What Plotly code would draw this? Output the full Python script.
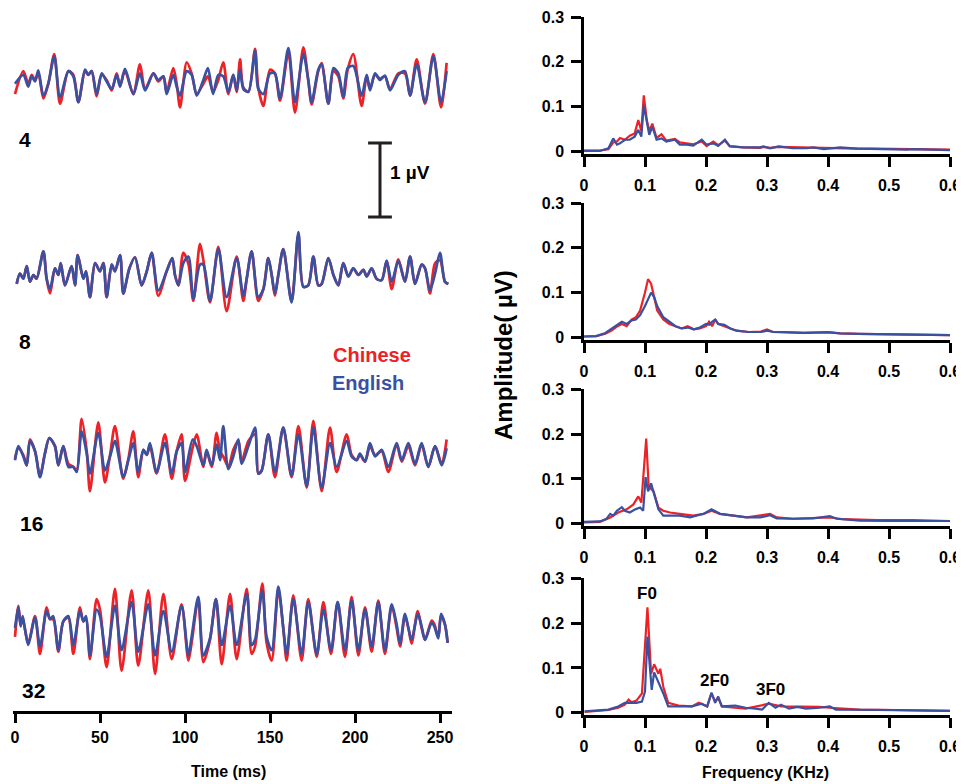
import plotly.graph_objects as go

# the page places the figure 8 px from the top-left corner of a 964x784 window
OFF = 8
W, H = 964 - OFF, 784 - OFF
RED = '#EC2227'
BLUE = '#3A50A1'
FONT = 'Arial, Liberation Sans, sans-serif'

# ---------------- time-domain waveforms (ms, µV) ----------------
t4 = [0, 4.9, 7.8, 9.8, 11.8, 13.7, 16.7, 19.6, 23.1, 26.5, 31.4, 34.3, 37.3, 41.2, 43.1, 45.1, 48.0, 51.0, 53.9, 56.9,
      59.8, 61.8, 64.7, 69.6, 73.5, 76.5, 81.4, 84.3, 87.3, 89.2, 93.1, 95.1, 97.1, 101.0, 103.9, 106.9, 110.8, 113.5,
      116.5, 119.6, 122.5, 125.5, 128.4, 130.4, 132.4, 134.3, 137.3, 141.2, 143.1, 146.1, 150.0, 152.9, 155.9, 160.8,
      164.7, 169.6, 172.5, 174.5, 178.4, 180.4, 184.3, 187.3, 190.2, 193.1, 195.7, 199.0, 203.9, 206.9, 208.8, 211.8,
      214.7, 217.6, 220.6, 225.5, 229.4, 232.4, 236.3, 241.2, 246.1, 250.6, 253.9]
blue4 = [-0.05, 0.07, -0.09, 0.05, -0.02, 0.13, -0.21, -0.05, 0.32, -0.23, 0.12, 0.05, -0.30, 0.14, 0.07, 0.12, -0.19, 0.09,
         -0.02, -0.12, 0.07, -0.09, 0.15, -0.19, 0.09, -0.14, 0.09, 0.0, 0.05, -0.19, 0.07, -0.09, -0.21, 0.12, 0.07, -0.21,
         0.0, 0.16, -0.19, 0.07, 0.05, -0.16, 0.07, -0.14, 0.14, -0.12, -0.16, 0.39, -0.12, -0.19, 0.09, 0.09, -0.25, 0.43,
         -0.30, 0.35, 0.0, -0.30, 0.14, 0.21, -0.32, 0.16, 0.09, -0.23, 0.16, 0.19, -0.21, 0.07, -0.14, 0.09, 0.0, 0.06,
         -0.14, 0.07, 0.12, -0.21, 0.21, -0.30, 0.32, -0.30, 0.12]
red4 = [-0.19, 0.12, -0.05, 0.07, 0.0, 0.10, -0.25, -0.05, 0.35, -0.32, 0.12, 0.07, -0.30, 0.12, 0.07, 0.12, -0.22, 0.07,
        0.0, -0.14, 0.09, -0.07, 0.12, -0.19, 0.21, -0.12, 0.09, -0.02, 0.05, -0.16, 0.16, -0.05, -0.37, 0.24, 0.09, -0.19,
        -0.05, 0.05, -0.16, 0.0, 0.24, -0.19, 0.07, -0.16, 0.28, -0.10, -0.16, 0.42, -0.10, -0.35, 0.14, 0.09, -0.28, 0.37,
        -0.44, 0.44, 0.0, -0.33, 0.12, 0.23, -0.32, 0.12, 0.05, -0.25, 0.14, 0.35, -0.35, 0.05, -0.12, 0.07, 0.02, 0.05,
        -0.12, 0.09, 0.09, -0.21, 0.28, -0.32, 0.35, -0.37, 0.23]

t8 = [1.0, 2.9, 4.9, 6.9, 8.8, 10.8, 12.7, 16.7, 18.6, 20.6, 23.5, 25.5, 26.9, 29.4, 33.3, 35.3, 36.9, 40.2, 41.8, 44.1,
      47.1, 50.0, 52.0, 53.9, 56.9, 58.8, 61.8, 63.7, 67.3, 70.6, 74.5, 77.5, 80.4, 84.3, 89.2, 92.5, 94.1, 96.1, 99.0,
      102.0, 104.9, 108.8, 110.8, 114.7, 119.6, 124.5, 130.4, 134.3, 136.3, 139.2, 143.1, 146.1, 149.0, 151.0, 152.9,
      154.9, 157.8, 162.7, 166.7, 169.6, 172.5, 175.5, 178.4, 180.4, 184.3, 187.3, 190.2, 193.1, 196.1, 199.0, 202.0,
      204.9, 206.9, 209.8, 212.7, 215.7, 218.6, 221.6, 225.5, 229.4, 232.4, 235.3, 239.2, 241.2, 244.1, 247.1, 250.0,
      252.9, 254.9]
blue8 = [-0.12, 0.02, -0.05, 0.12, -0.09, 0.0, -0.05, 0.32, -0.05, -0.19, 0.09, 0.0, 0.16, -0.14, 0.12, -0.14, 0.27, -0.05,
         0.05, -0.30, 0.16, 0.05, 0.16, -0.30, 0.14, 0.05, 0.27, -0.25, 0.09, 0.24, -0.14, 0.05, 0.30, -0.21, 0.05, 0.23,
         0.0, -0.14, 0.16, 0.25, -0.32, 0.14, 0.14, -0.35, 0.35, -0.30, 0.23, -0.28, -0.05, 0.32, -0.30, -0.19, 0.23, 0.0,
         -0.25, 0.0, 0.35, -0.37, 0.58, -0.16, -0.14, 0.25, -0.14, -0.12, 0.23, 0.0, -0.14, 0.16, -0.02, 0.09, 0.0, 0.07,
         -0.02, 0.09, -0.05, -0.07, 0.19, -0.09, 0.19, -0.09, 0.25, -0.12, 0.14, 0.09, -0.21, 0.02, 0.30, -0.09, -0.12]
red8 = [-0.12, 0.02, -0.05, 0.12, -0.09, 0.0, -0.05, 0.32, -0.05, -0.25, 0.09, 0.0, 0.16, -0.14, 0.12, -0.14, 0.27, -0.05,
        0.05, -0.30, 0.16, 0.05, 0.16, -0.30, 0.14, 0.05, 0.27, -0.25, 0.09, 0.24, -0.14, 0.05, 0.30, -0.28, 0.05, 0.23,
        0.0, -0.14, 0.30, 0.15, -0.35, 0.42, 0.20, -0.37, 0.38, -0.49, 0.25, -0.35, -0.05, 0.32, -0.35, -0.19, 0.23, 0.0,
        -0.28, 0.0, 0.35, -0.35, 0.55, -0.16, -0.14, 0.25, -0.14, -0.12, 0.23, 0.0, -0.14, 0.16, -0.02, 0.09, 0.0, 0.07,
        -0.02, 0.09, -0.05, -0.07, 0.19, -0.19, 0.21, -0.09, 0.25, -0.12, 0.14, 0.09, -0.25, 0.16, 0.20, -0.09, -0.12]

t16 = [0, 2.0, 4.9, 6.9, 8.8, 11.8, 14.7, 17.6, 20.2, 23.5, 25.5, 28.4, 31.4, 34.3, 36.3, 39.2, 42.2, 44.1, 49.0, 52.9,
       55.9, 58.8, 63.7, 66.7, 69.6, 72.5, 75.5, 77.5, 79.4, 83.3, 88.2, 92.2, 95.1, 98.0, 100.0, 104.5, 106.9, 110.8,
       112.7, 115.7, 118.6, 120.6, 122.5, 125.5, 128.4, 131.4, 133.3, 137.3, 141.2, 143.1, 145.1, 149.0, 152.9, 157.8,
       162.7, 166.7, 171.6, 175.5, 180.4, 185.3, 189.2, 195.1, 198.0, 201.0, 202.9, 205.9, 208.8, 211.8, 215.7, 219.6,
       224.5, 227.5, 231.4, 235.3, 239.2, 243.1, 247.1, 251.0, 253.9]
blue16 = [-0.07, 0.12, -0.02, -0.14, 0.19, 0.05, -0.30, 0.02, 0.23, 0.12, -0.14, 0.12, -0.16, -0.16, -0.23, 0.32, 0.02,
          -0.25, 0.30, -0.21, -0.02, 0.19, -0.30, -0.07, 0.16, -0.23, 0.07, 0.0, 0.16, -0.23, 0.16, -0.25, 0.05, 0.16,
          -0.23, 0.21, 0.12, -0.14, 0.07, -0.14, 0.14, -0.07, 0.39, -0.19, -0.02, 0.21, -0.12, 0.12, 0.37, -0.25, -0.21,
          0.28, -0.23, 0.37, -0.28, 0.28, -0.42, 0.37, -0.44, 0.16, -0.16, 0.19, -0.02, -0.07, 0.02, -0.09, 0.16, -0.02,
          0.07, -0.16, 0.16, -0.07, 0.16, -0.12, 0.16, -0.16, 0.12, -0.14, 0.09]
red16 = [-0.05, 0.09, 0.0, -0.14, 0.21, 0.05, -0.28, 0.02, 0.23, 0.12, -0.14, 0.12, -0.12, -0.16, -0.21, 0.49, 0.05,
         -0.49, 0.44, -0.37, 0.0, 0.39, -0.32, -0.05, 0.32, -0.30, 0.07, 0.0, 0.12, -0.25, 0.28, -0.32, 0.05, 0.28,
         -0.35, 0.10, 0.28, -0.16, 0.05, -0.16, 0.30, 0.05, -0.02, -0.16, 0.07, 0.19, -0.09, 0.19, 0.28, -0.25, -0.21,
         0.28, -0.30, 0.37, -0.30, 0.39, -0.44, 0.46, -0.49, 0.37, -0.23, 0.28, 0.0, -0.07, 0.0, -0.09, 0.12, 0.0,
         0.05, -0.23, 0.14, -0.09, 0.12, -0.14, 0.14, -0.16, 0.12, -0.12, 0.21]

t32 = [0, 2.0, 3.3, 4.5, 5.9, 7.8, 11.8, 14.7, 18.6, 20.6, 22.5, 25.5, 28.4, 31.4, 34.3, 38.2, 40.2, 41.8, 44.1, 48.0,
       50.0, 53.9, 58.8, 62.7, 68.6, 72.5, 78.4, 82.4, 87.3, 92.2, 98.0, 102.0, 103.9, 107.8, 110.8, 114.7, 118.2, 121.6,
       126.5, 130.4, 136.3, 139.2, 141.2, 145.5, 148.0, 151.0, 154.9, 157.8, 159.8, 163.7, 168.6, 172.5, 177.5, 181.4,
       185.9, 189.8, 194.1, 198.0, 202.0, 205.9, 209.8, 213.7, 217.6, 221.6, 224.5, 226.5, 229.4, 231.4, 233.3, 236.9,
       239.2, 241.2, 245.1, 246.7, 249.0, 250.6, 252.9, 254.5]
blue32 = [0.0, 0.28, 0.02, 0.16, -0.02, -0.23, 0.14, -0.25, 0.23, 0.12, 0.16, -0.30, 0.09, 0.16, -0.23, 0.23, 0.09, 0.16,
          -0.37, 0.25, 0.16, -0.39, 0.30, -0.30, 0.35, -0.32, 0.32, -0.37, 0.23, -0.32, 0.30, -0.37, -0.12, 0.42, -0.37,
          -0.14, 0.39, -0.23, 0.30, -0.23, 0.46, -0.23, -0.16, 0.51, -0.12, -0.30, 0.56, 0.0, -0.35, 0.39, -0.35, 0.35,
          -0.35, 0.25, -0.30, 0.35, -0.30, 0.37, -0.30, 0.25, -0.25, 0.35, -0.30, 0.32, 0.05, -0.21, 0.19, 0.0, -0.16,
          0.19, 0.02, -0.16, 0.07, 0.02, -0.14, 0.19, 0.05, -0.20]
red32 = [-0.12, 0.30, 0.05, 0.12, -0.02, -0.21, 0.16, -0.35, 0.28, 0.12, 0.12, -0.32, 0.09, 0.14, -0.35, 0.28, 0.09, 0.12,
         -0.42, 0.39, 0.25, -0.53, 0.53, -0.58, 0.51, -0.51, 0.51, -0.62, 0.46, -0.42, 0.32, -0.44, -0.20, 0.39, -0.46,
         -0.16, 0.39, -0.49, 0.46, -0.42, 0.53, -0.35, -0.25, 0.60, -0.20, -0.44, 0.52, 0.0, -0.44, 0.44, -0.44, 0.39,
         -0.39, 0.35, -0.35, 0.35, -0.39, 0.42, -0.37, 0.28, -0.32, 0.37, -0.35, 0.30, 0.0, -0.25, 0.16, 0.0, -0.21,
         0.23, 0.0, -0.16, 0.10, 0.05, -0.12, 0.16, 0.05, -0.20]

wave_labels = ['4', '8', '16', '32']
time_ticks = [0, 50, 100, 150, 200, 250]

# ---------------- spectra (KHz, µV) ----------------
f1 = [0.000, 0.026, 0.040, 0.048, 0.054, 0.059, 0.067, 0.075, 0.083, 0.089, 0.094, 0.098, 0.103, 0.107, 0.112, 0.119,
      0.127, 0.135, 0.149, 0.157, 0.168, 0.179, 0.193, 0.201, 0.212, 0.220, 0.231, 0.239, 0.261, 0.289, 0.294, 0.305,
      0.319, 0.342, 0.365, 0.376, 0.393, 0.420, 0.448, 0.475, 0.530, 0.537, 0.600]
blue_s1 = [0.001, 0.001, 0.007, 0.029, 0.015, 0.018, 0.026, 0.026, 0.033, 0.048, 0.033, 0.103, 0.066, 0.037, 0.055, 0.026,
           0.029, 0.022, 0.026, 0.015, 0.015, 0.013, 0.026, 0.015, 0.018, 0.012, 0.026, 0.011, 0.009, 0.009, 0.011, 0.007,
           0.011, 0.007, 0.007, 0.009, 0.005, 0.009, 0.006, 0.005, 0.004, 0.005, 0.003]
red_s1 = [0.002, 0.002, 0.005, 0.020, 0.022, 0.030, 0.026, 0.035, 0.040, 0.070, 0.045, 0.125, 0.070, 0.045, 0.062, 0.030,
          0.038, 0.024, 0.028, 0.020, 0.018, 0.016, 0.022, 0.012, 0.022, 0.014, 0.024, 0.012, 0.009, 0.008, 0.010, 0.008,
          0.010, 0.009, 0.008, 0.009, 0.008, 0.007, 0.006, 0.006, 0.005, 0.004, 0.004]

f2 = [0.0, 0.02, 0.035, 0.045, 0.055, 0.062, 0.07, 0.078, 0.085, 0.092, 0.1, 0.105, 0.11, 0.115, 0.12, 0.13, 0.14, 0.15,
      0.16, 0.17, 0.18, 0.19, 0.2, 0.205, 0.21, 0.215, 0.22, 0.23, 0.24, 0.25, 0.27, 0.29, 0.3, 0.31, 0.33, 0.36, 0.4,
      0.42, 0.45, 0.5, 0.55, 0.6]
red_s2 = [0.002, 0.003, 0.008, 0.015, 0.025, 0.03, 0.025, 0.04, 0.045, 0.06, 0.1, 0.13, 0.12, 0.09, 0.06, 0.04, 0.03,
          0.025, 0.02, 0.025, 0.018, 0.02, 0.025, 0.035, 0.025, 0.04, 0.03, 0.025, 0.02, 0.015, 0.012, 0.013, 0.018,
          0.012, 0.012, 0.01, 0.012, 0.009, 0.008, 0.007, 0.006, 0.005]
blue_s2 = [0.002, 0.003, 0.01, 0.02, 0.03, 0.035, 0.03, 0.038, 0.04, 0.05, 0.07, 0.085, 0.1, 0.09, 0.07, 0.045, 0.035,
           0.025, 0.02, 0.022, 0.018, 0.022, 0.03, 0.028, 0.035, 0.04, 0.03, 0.028, 0.02, 0.015, 0.012, 0.012, 0.015,
           0.012, 0.011, 0.01, 0.011, 0.009, 0.008, 0.007, 0.006, 0.005]

f3b = [0.0, 0.026, 0.037, 0.043, 0.048, 0.054, 0.062, 0.067, 0.075, 0.084, 0.092, 0.097, 0.101, 0.105, 0.110, 0.116,
       0.122, 0.130, 0.141, 0.157, 0.174, 0.196, 0.209, 0.223, 0.245, 0.267, 0.289, 0.305, 0.316, 0.343, 0.376, 0.403,
       0.414, 0.452, 0.507, 0.600]
blue_s3 = [0.004, 0.005, 0.011, 0.022, 0.018, 0.029, 0.037, 0.029, 0.025, 0.032, 0.036, 0.029, 0.104, 0.072, 0.090, 0.061,
           0.032, 0.018, 0.018, 0.018, 0.014, 0.022, 0.032, 0.022, 0.018, 0.014, 0.014, 0.019, 0.012, 0.011, 0.012, 0.017,
           0.011, 0.007, 0.006, 0.006]
f3r = [0.0, 0.026, 0.043, 0.056, 0.070, 0.081, 0.089, 0.094, 0.102, 0.106, 0.114, 0.122, 0.130, 0.141, 0.157, 0.179,
       0.196, 0.209, 0.223, 0.245, 0.267, 0.305, 0.316, 0.343, 0.403, 0.425, 0.480, 0.540, 0.600]
red_s3 = [0.003, 0.004, 0.014, 0.025, 0.032, 0.043, 0.061, 0.047, 0.190, 0.083, 0.072, 0.036, 0.029, 0.025, 0.022, 0.018,
          0.022, 0.029, 0.022, 0.018, 0.014, 0.022, 0.014, 0.011, 0.014, 0.010, 0.008, 0.008, 0.006]

f4b = [0.001, 0.040, 0.056, 0.067, 0.078, 0.086, 0.095, 0.100, 0.104, 0.108, 0.111, 0.115, 0.122, 0.130, 0.138, 0.155,
       0.177, 0.193, 0.202, 0.209, 0.215, 0.220, 0.226, 0.248, 0.265, 0.281, 0.292, 0.303, 0.314, 0.323, 0.336, 0.350,
       0.364, 0.386, 0.403, 0.413, 0.452, 0.507, 0.600]
blue_s4 = [0.003, 0.007, 0.014, 0.022, 0.022, 0.022, 0.025, 0.047, 0.170, 0.101, 0.051, 0.090, 0.069, 0.043, 0.014, 0.014,
           0.014, 0.020, 0.014, 0.045, 0.022, 0.036, 0.014, 0.016, 0.011, 0.009, 0.007, 0.022, 0.011, 0.018, 0.009, 0.013,
           0.009, 0.011, 0.014, 0.007, 0.006, 0.006, 0.004]
f4r = [0.001, 0.040, 0.056, 0.067, 0.073, 0.078, 0.086, 0.095, 0.104, 0.110, 0.115, 0.122, 0.125, 0.130, 0.138, 0.155,
       0.177, 0.188, 0.202, 0.209, 0.215, 0.220, 0.226, 0.248, 0.265, 0.303, 0.323, 0.386, 0.403, 0.452, 0.507, 0.600]
red_s4 = [0.002, 0.006, 0.011, 0.018, 0.029, 0.023, 0.027, 0.043, 0.235, 0.087, 0.108, 0.087, 0.098, 0.058, 0.022, 0.016,
          0.014, 0.022, 0.014, 0.043, 0.025, 0.033, 0.014, 0.011, 0.009, 0.020, 0.014, 0.013, 0.011, 0.007, 0.006, 0.004]

freq_ticks = [0, 0.1, 0.2, 0.3, 0.4, 0.5, 0.6]
freq_tick_text = ['0', '0.1', '0.2', '0.3', '0.4', '0.5', '0.6']
amp_ticks = [0, 0.1, 0.2, 0.3]
amp_tick_text = ['0', '0.1', '0.2', '0.3']
harmonic_labels = [('F0', 0.104, 0.265), ('2F0', 0.214, 0.073), ('3F0', 0.305, 0.052)]

# ---------------- layout helpers (screen-pixel geometry) ----------------
def xp(p):
    return (p - OFF) / W

def yp(p):
    return 1 - (p - OFF) / H

PX_PER_UV = 74.0
wave_centers = [80, 275, 455, 628]
wave_half = 0.7

fig = go.Figure()

waves = [(t4, red4, blue4), (t8, red8, blue8), (t16, red16, blue16), (t32, red32, blue32)]
yaxes_left = ['y', 'y2', 'y3', 'y4']
for (tt, rr, bb), ya in zip(waves, yaxes_left):
    fig.add_trace(go.Scatter(x=tt, y=rr, mode='lines', line=dict(color=RED, width=2.7, shape='spline', smoothing=0.8),
                             xaxis='x', yaxis=ya, showlegend=False, hoverinfo='skip'))
    fig.add_trace(go.Scatter(x=tt, y=bb, mode='lines', line=dict(color=BLUE, width=2.7, shape='spline', smoothing=0.8),
                             xaxis='x', yaxis=ya, showlegend=False, hoverinfo='skip'))

# scale bar 1 µV
bar_t = 214.7
bar_half = 7.0
fig.add_trace(go.Scatter(x=[bar_t - bar_half, bar_t + bar_half, None, bar_t, bar_t, None, bar_t - bar_half, bar_t + bar_half],
                         y=[1, 1, None, 1, 0, None, 0, 0], mode='lines', line=dict(color='#231F20', width=3),
                         xaxis='x', yaxis='y9', showlegend=False, hoverinfo='skip'))

spectra = [((f1, red_s1), (f1, blue_s1)), ((f2, red_s2), (f2, blue_s2)),
           ((f3r, red_s3), (f3b, blue_s3)), ((f4r, red_s4), (f4b, blue_s4))]
for i, ((fr, rv), (fb, bv)) in enumerate(spectra):
    xa = 'x%d' % (i + 2)
    ya = 'y%d' % (i + 5)
    fig.add_trace(go.Scatter(x=fr, y=rv, mode='lines', line=dict(color=RED, width=2.2),
                             xaxis=xa, yaxis=ya, showlegend=False, hoverinfo='skip'))
    fig.add_trace(go.Scatter(x=fb, y=bv, mode='lines', line=dict(color=BLUE, width=2.2),
                             xaxis=xa, yaxis=ya, showlegend=False, hoverinfo='skip'))

tickfont = dict(family=FONT, size=16, color='black', weight='bold')
layout = dict(
    width=W, height=H, margin=dict(l=0, r=0, t=0, b=0, autoexpand=False),
    paper_bgcolor='white', plot_bgcolor='white', showlegend=False,
    font=dict(family=FONT, color='black'),
)

# left time axis (0 ms at x=15 px, 1.7 px per ms)
layout['xaxis'] = dict(domain=[xp(13), xp(452)], range=[(13 - 15) / 1.7, (452 - 15) / 1.7],
                       anchor='free', position=yp(712), showline=True, linecolor='black', linewidth=2.5,
                       ticks='outside', ticklen=9, tickwidth=2.5, tickcolor='black', tickvals=time_ticks,
                       tickfont=tickfont, ticklabelstandoff=1, showgrid=False, zeroline=False, automargin=False,
                       ticklabeloverflow='allow')
for i, c in enumerate(wave_centers):
    key = 'yaxis' if i == 0 else 'yaxis%d' % (i + 1)
    hpx = wave_half * PX_PER_UV
    layout[key] = dict(domain=[yp(c + hpx), yp(c - hpx)], range=[-wave_half, wave_half], visible=False,
                       anchor='x', fixedrange=True)
# scale-bar axis: 0 µV at y=217 px
layout['yaxis9'] = dict(domain=[yp(225), yp(130)], range=[-(225 - 217) / PX_PER_UV, (217 - 130) / PX_PER_UV],
                        visible=False, anchor='x')

# right spectra axes
tops = [17, 203, 389.3, 578.3]
ymin, ymax = -0.006, 0.3
spx = 448.0
for i, top in enumerate(tops):
    bottom = top + (ymax - ymin) * spx
    layout['xaxis%d' % (i + 2)] = dict(domain=[xp(584), xp(950)], range=[0, 0.6], anchor='y%d' % (i + 5),
                                       showline=True, linecolor='black', linewidth=2.5, ticks='outside',
                                       ticklen=10, tickwidth=2.5, tickcolor='black', tickvals=freq_ticks,
                                       ticktext=freq_tick_text,
                                       tickfont=tickfont, ticklabelstandoff=5, showgrid=False, zeroline=False,
                                       automargin=False, ticklabeloverflow='allow')
    layout['yaxis%d' % (i + 5)] = dict(domain=[yp(bottom), yp(top)], range=[ymin, ymax], anchor='x%d' % (i + 2),
                                       showline=True, linecolor='black', linewidth=2.5, ticks='outside',
                                       ticklen=10, tickwidth=2.5, tickcolor='black', tickvals=amp_ticks,
                                       ticktext=amp_tick_text,
                                       tickfont=tickfont, ticklabelstandoff=4, showgrid=False, zeroline=False,
                                       automargin=False, ticklabeloverflow='allow')

fig.update_layout(**layout)

def bold(size, color='black'):
    return dict(family=FONT, size=size, color=color, weight='bold')

ann = []
for lab, (px_, py_) in zip(wave_labels, [(25, 139), (25, 341), (31, 523), (33, 690)]):
    ann.append(dict(text=lab, x=xp(px_), y=yp(py_), xref='paper', yref='paper', showarrow=False,
                    xanchor='center', yanchor='middle', font=bold(21)))
ann.append(dict(text='Chinese', x=xp(372), y=yp(355), xref='paper', yref='paper', showarrow=False,
                xanchor='center', yanchor='middle', font=bold(20, RED)))
ann.append(dict(text='English', x=xp(368), y=yp(383), xref='paper', yref='paper', showarrow=False,
                xanchor='center', yanchor='middle', font=bold(20, BLUE)))
ann.append(dict(text='1 µV', x=bar_t + 4.5, y=(217 - 172) / PX_PER_UV, xref='x', yref='y9', showarrow=False,
                xanchor='left', yanchor='middle', font=bold(19)))
ann.append(dict(text='Time (ms)', x=xp(228), y=yp(771), xref='paper', yref='paper', showarrow=False,
                xanchor='center', yanchor='middle', font=bold(16)))
ann.append(dict(text='Frequency (KHz)', x=xp(765), y=yp(772), xref='paper', yref='paper', showarrow=False,
                xanchor='center', yanchor='middle', font=bold(16)))
ann.append(dict(text='Amplitude( µV)', x=xp(503), y=yp(355), xref='paper', yref='paper', showarrow=False,
                xanchor='center', yanchor='middle', textangle=-90, font=bold(24)))
for txt, fx, fy in harmonic_labels:
    ann.append(dict(text=txt, x=fx, y=fy, xref='x5', yref='y8', showarrow=False,
                    xanchor='center', yanchor='middle', font=bold(17)))
fig.update_layout(annotations=ann)

fig.write_html('out.html')
